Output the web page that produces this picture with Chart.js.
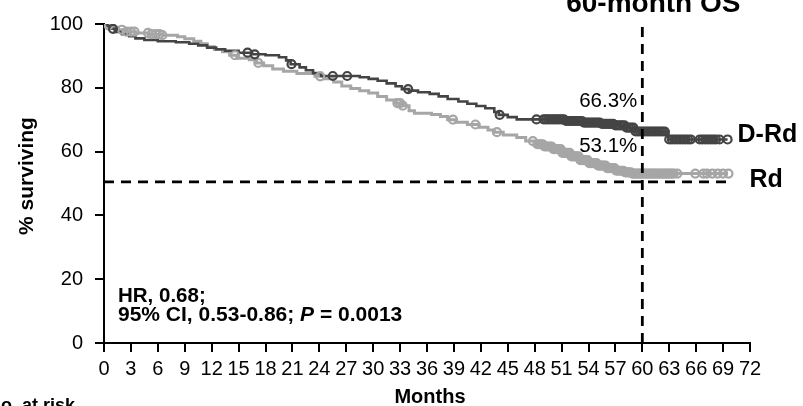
<!DOCTYPE html>
<html>
<head>
<meta charset="utf-8">
<script src="https://cdn.jsdelivr.net/npm/chart.js@4/dist/chart.umd.min.js"></script>
<style>
  html, body { margin: 0; padding: 0; background: #fff; }
  #wrap { width: 803px; height: 406px; position: relative; }
</style>
</head>
<body>
<div id="wrap"><canvas id="km"></canvas></div>
<script>
// Kaplan-Meier overall survival, D-Rd vs Rd
const xTicks = [0, 3, 6, 9, 12, 15, 18, 21, 24, 27, 30, 33, 36, 39, 42, 45, 48, 51, 54, 57, 60, 63, 66, 69, 72];
const yTicks = [0, 20, 40, 60, 80, 100];

// D-Rd step curve: months / % surviving
const drdTime = [0, 0.4, 0.8, 1.2, 2.0, 2.8, 3.5, 4.5, 6.0, 8.0, 9.5, 10.5, 11.5, 12.5, 13.5, 15.0, 16.5, 18.0, 19.5, 20.3, 20.8, 21.8, 22.5, 23.3, 24.2, 28.5, 29.5, 30.5, 31.5, 32.5, 33.2, 34.0, 35.0, 36.3, 37.3, 38.3, 39.5, 40.5, 41.5, 42.5, 43.5, 44.0, 45.0, 46.0, 51.5, 53.5, 55.5, 57.0, 58.2, 59.2, 62.9, 69.5];
const drdSurv = [100, 99.3, 98.5, 97.5, 96.8, 96.2, 95.5, 95.0, 94.6, 94.3, 93.8, 93.3, 92.6, 92.1, 91.6, 91.0, 90.5, 90.2, 89.6, 88.6, 87.4, 86.4, 85.5, 84.6, 83.7, 83.3, 82.8, 82.2, 81.4, 80.5, 79.6, 79.1, 78.6, 78.1, 77.3, 76.5, 75.7, 75.0, 74.3, 73.6, 72.4, 71.5, 70.8, 70.1, 69.6, 69.1, 68.7, 68.2, 67.5, 66.3, 63.8, 63.8];
const drdCensor = [1.0, 16.0, 16.8, 20.9, 25.5, 27.1, 33.9, 44.1, 48.2, 49.0,
  49.25, 49.5, 49.75, 50.0, 50.25, 50.5, 50.75, 51.0, 51.25, 51.5, 51.75, 52.0, 52.25, 52.5, 52.75,
  53.0, 53.25, 53.5, 53.75, 54.0, 54.25, 54.5, 54.75, 55.0, 55.25, 55.5, 55.75, 56.0, 56.25, 56.5,
  56.75, 57.0, 57.25, 57.5, 57.75, 58.0, 58.25, 58.5, 58.75, 59.0, 59.25, 59.5, 59.75, 60.0, 60.25,
  60.5, 60.75, 61.0, 61.25, 61.5, 61.75, 62.0, 62.25, 62.5,
  63.0, 63.3, 63.6, 63.9, 64.2, 64.5, 64.8, 65.1, 65.4, 66.4, 66.7, 67.0, 67.3, 67.6, 67.9, 68.2, 68.6, 69.5];

// Rd step curve: months / % surviving
const rdTime = [0, 0.5, 1.0, 1.6, 2.4, 3.5, 5.0, 6.5, 8.2, 9.0, 10.0, 10.8, 11.5, 12.3, 13.2, 14.0, 14.8, 16.2, 17.0, 17.8, 18.8, 20.0, 21.5, 23.5, 24.5, 25.6, 26.5, 27.5, 28.5, 29.5, 30.5, 31.5, 32.5, 33.3, 34.0, 34.6, 36.5, 37.5, 38.3, 39.2, 40.5, 41.8, 42.8, 43.5, 44.5, 46.0, 47.0, 48.0, 49.0, 50.0, 51.0, 52.0, 53.0, 54.0, 55.0, 56.0, 57.0, 58.0, 58.8, 69.5];
const rdSurv = [100, 99.6, 99.0, 98.2, 97.6, 97.2, 96.8, 96.5, 96.0, 95.4, 94.6, 93.8, 92.9, 92.0, 91.3, 90.2, 89.3, 88.8, 87.8, 86.9, 85.9, 85.2, 84.5, 83.6, 82.8, 81.8, 80.6, 79.8, 79.1, 78.4, 77.3, 76.2, 75.2, 74.4, 72.8, 72.0, 71.6, 71.0, 70.0, 69.2, 68.5, 67.6, 66.8, 66.1, 65.2, 64.4, 63.3, 62.3, 61.6, 60.8, 59.6, 58.5, 57.3, 56.4, 55.6, 54.8, 54.0, 53.5, 53.1, 53.1];
const rdCensor = [0.5, 2.0, 2.5, 3.0, 3.4, 4.9, 5.3, 5.8, 6.2, 6.5, 14.6, 17.2, 24.1, 32.7, 33.0, 33.3, 38.9, 41.4, 43.8, 47.8,
  48.3, 48.5, 48.7, 48.9, 49.1, 49.3, 49.5, 49.7, 49.9, 50.1, 50.3, 50.5, 50.7, 50.9, 51.1, 51.3, 51.5,
  51.7, 51.9, 52.1, 52.3, 52.5, 52.7, 52.9, 53.1, 53.3, 53.5, 53.7, 53.9, 54.1, 54.3, 54.5, 54.7, 54.9,
  55.1, 55.3, 55.5, 55.7, 55.9, 56.1, 56.3, 56.5, 56.7, 56.9, 57.1, 57.3, 57.5, 57.7, 57.9, 58.1, 58.3,
  58.5, 58.7, 58.9, 59.1, 59.3, 59.5, 59.7, 59.9, 60.1, 60.3, 60.5, 60.7, 60.9, 61.1, 61.3, 61.5, 61.7,
  61.9, 62.1, 62.3, 62.5, 62.7, 62.9, 63.1, 63.3, 63.5, 63.9, 65.9, 66.8, 67.2, 67.8, 68.4, 69.0, 69.6];

// Reference lines and landmark estimates
const landmarkMonth = 60;
const medianRefLevel = 50.5;
const medianRefEnd = 70;
const os60 = [66.3, 53.1];        // D-Rd, Rd at 60 months
const armNames = ['D-Rd', 'Rd'];

const DARK = '#444444';
const LIGHT = '#a6a6a6';
const FONT = '"Liberation Sans", Arial, sans-serif';

function toPoints(t, s) { return t.map((v, i) => ({ x: v, y: s[i] })); }
function stepValue(t, s, at) {
  let v = s[0];
  for (let i = 0; i < t.length; i++) { if (t[i] <= at) v = s[i]; else break; }
  return v;
}
function censorPoints(c, t, s) { return c.map(v => ({ x: v, y: stepValue(t, s, v) })); }

const textPlugin = {
  id: 'kmText',
  afterDraw(chart) {
    const { ctx, scales: { x, y } } = chart;
    const xl = x.getPixelForValue(landmarkMonth);
    ctx.save();
    ctx.fillStyle = '#000';

    ctx.font = 'bold 28px ' + FONT;
    ctx.textAlign = 'center';
    ctx.textBaseline = 'alphabetic';
    ctx.fillText(landmarkMonth + '-month OS', xl + 11, 12);

    ctx.font = '20.5px ' + FONT;
    ctx.textAlign = 'right';
    ctx.textBaseline = 'middle';
    ctx.fillText(os60[0].toFixed(1) + '%', xl - 5, y.getPixelForValue(os60[0]) - 30);
    ctx.fillText(os60[1].toFixed(1) + '%', xl - 5, y.getPixelForValue(os60[1]) - 27);

    ctx.font = 'bold 25px ' + FONT;
    ctx.textAlign = 'left';
    const xEnd = x.getPixelForValue(drdTime[drdTime.length - 1]);
    ctx.fillText(armNames[0], xEnd + 10, y.getPixelForValue(drdSurv[drdSurv.length - 1]) - 4);
    ctx.fillText(armNames[1], xEnd + 22, y.getPixelForValue(rdSurv[rdSurv.length - 1]) + 6);

    // axis titles
    ctx.font = 'bold 21px ' + FONT;
    ctx.save();
    ctx.translate(27, 176);
    ctx.rotate(-Math.PI / 2);
    ctx.textAlign = 'center';
    ctx.textBaseline = 'middle';
    ctx.fillText('% surviving', 0, 0);
    ctx.restore();

    ctx.font = 'bold 20px ' + FONT;
    ctx.textAlign = 'center';
    ctx.textBaseline = 'alphabetic';
    ctx.fillText('Months', 430, 403);

    ctx.font = 'bold 18px ' + FONT;
    ctx.textAlign = 'right';
    ctx.fillText('No. at risk', 75, 411);

    // hazard ratio statistics
    ctx.textAlign = 'left';
    ctx.font = 'bold 20.5px ' + FONT;
    ctx.fillText('HR, 0.68;', 118, 302);
    let px = 118;
    const parts = [['95% CI, 0.53-0.86; ', 'bold'], ['P', 'italic bold'], [' = 0.0013', 'bold']];
    parts.forEach(([txt, st]) => {
      ctx.font = st + ' 21px ' + FONT;
      ctx.fillText(txt, px, 321);
      px += ctx.measureText(txt).width;
    });
    ctx.restore();
  }
};

const dashed = { borderColor: '#000', borderWidth: 2.8, borderDash: [10, 7], pointRadius: 0, fill: false };

new Chart(document.getElementById('km'), {
  type: 'line',
  data: {
    datasets: [
      Object.assign({ data: [{ x: landmarkMonth, y: 0 }, { x: landmarkMonth, y: 100 }] }, dashed),
      Object.assign({ data: [{ x: 0, y: medianRefLevel }, { x: medianRefEnd, y: medianRefLevel }] }, dashed),
      { type: 'scatter', data: censorPoints(drdCensor, drdTime, drdSurv), borderColor: DARK, backgroundColor: 'rgba(0,0,0,0)', pointRadius: 4, borderWidth: 2.2, pointStyle: 'circle' },
      { type: 'scatter', data: censorPoints(rdCensor, rdTime, rdSurv), borderColor: LIGHT, backgroundColor: 'rgba(0,0,0,0)', pointRadius: 4, borderWidth: 2.2, pointStyle: 'circle' },
      { data: toPoints(drdTime, drdSurv), borderColor: DARK, borderWidth: 2.6, stepped: true, pointRadius: 0, fill: false },
      { data: toPoints(rdTime, rdSurv), borderColor: LIGHT, borderWidth: 3, stepped: true, pointRadius: 0, fill: false }
    ]
  },
  options: {
    responsive: true,
    maintainAspectRatio: false,
    animation: false,
    layout: { padding: { left: 0, right: 53, top: 17, bottom: 0 } },
    plugins: { legend: { display: false }, tooltip: { enabled: false } },
    scales: {
      x: {
        type: 'linear', min: 0, max: 72,
        afterBuildTicks: s => { s.ticks = xTicks.map(v => ({ value: v })); },
        afterFit: s => { s.height = 63; },
        grid: { display: true, drawOnChartArea: false, drawTicks: true, tickLength: 9, color: '#000', lineWidth: 2 },
        border: { display: true, color: '#000', width: 2 },
        ticks: { color: '#000', padding: 5, maxRotation: 0, autoSkip: false, font: { family: FONT, size: 20 } }
      },
      y: {
        min: 0, max: 100,
        afterBuildTicks: s => { s.ticks = yTicks.map(v => ({ value: v })); },
        afterFit: s => { s.width = 104; },
        grid: { display: true, drawOnChartArea: false, drawTicks: true, tickLength: 9, color: '#000', lineWidth: 2 },
        border: { display: true, color: '#000', width: 2 },
        ticks: { color: '#000', padding: 12, font: { family: FONT, size: 20 } }
      }
    }
  },
  plugins: [textPlugin]
});
</script>
</body>
</html>
